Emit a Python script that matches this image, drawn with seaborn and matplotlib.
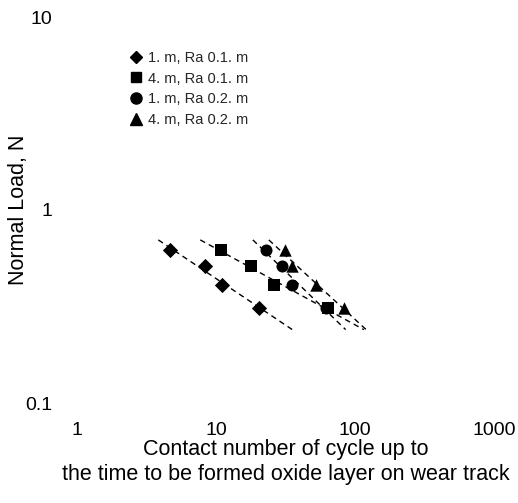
import numpy as np
import pandas as pd
import matplotlib
matplotlib.use("Agg")
import matplotlib.pyplot as plt
import seaborn as sns
from matplotlib.lines import Line2D

# ---- data ----
series_labels = ["1. m, Ra 0.1. m", "4. m, Ra 0.1. m", "1. m, Ra 0.2. m", "4. m, Ra 0.2. m"]
loads = [0.62, 0.51, 0.41, 0.31]
cycles_s1 = [4.7, 8.4, 11.0, 20.5]
cycles_s2 = [10.9, 17.9, 26.0, 64.0]
cycles_s3 = [23.0, 30.0, 35.0, 62.0]
cycles_s4 = [31.5, 35.5, 52.0, 84.0]
fit_load_range = [0.70, 0.24]
x_ticks = [1, 10, 100, 1000]
x_tick_labels = ["1", "10", "100", "1000"]
y_ticks = [0.1, 1, 10]
y_tick_labels = ["0.1", "1", "10"]

markers = ["D", "s", "o", "^"]
marker_sizes = [60, 75, 75, 80]

sns.set_theme(style="white")
plt.rcParams["font.family"] = ["Liberation Sans", "DejaVu Sans"]

rows = []
for lab, cyc in zip(series_labels, [cycles_s1, cycles_s2, cycles_s3, cycles_s4]):
    for c, l in zip(cyc, loads):
        rows.append({"series": lab, "cycles": c, "load": l})
df = pd.DataFrame(rows)

fig = plt.figure(figsize=(5.18, 5.03), dpi=100)
ax = fig.add_axes([77 / 518, 1 - 403 / 503, 417 / 518, 386 / 503])
ax.set_xscale("log")
ax.set_yscale("log")

# dashed fit lines (log-log regression)
line_rows = []
for lab in series_labels:
    sub = df[df.series == lab]
    b, a = np.polyfit(np.log10(sub.cycles), np.log10(sub.load), 1)
    for L in fit_load_range:
        line_rows.append({"series": lab, "cycles": 10 ** ((np.log10(L) - a) / b), "load": L})
ldf = pd.DataFrame(line_rows)
for lab in series_labels:
    sub = ldf[ldf.series == lab]
    sns.lineplot(data=sub, x="cycles", y="load", ax=ax, color="black", lw=1.0,
                 linestyle=(0, (4, 3)), sort=False, estimator=None, legend=False)

for lab, m, s in zip(series_labels, markers, marker_sizes):
    sub = df[df.series == lab]
    sns.scatterplot(data=sub, x="cycles", y="load", ax=ax, marker=m, s=s,
                    color="black", edgecolor="black", linewidth=0, legend=False, zorder=3)

ax.set_xlim(1, 1000)
ax.set_ylim(0.1, 10)
for sp in ax.spines.values():
    sp.set_visible(False)

ax.set_xticks(x_ticks)
ax.set_xticklabels(x_tick_labels)
ax.set_yticks(y_ticks)
ax.set_yticklabels(y_tick_labels)
ax.tick_params(axis="both", which="major", length=0, labelsize=14, colors="black")
ax.tick_params(axis="x", pad=14)
ax.tick_params(axis="y", pad=18)
ax.tick_params(which="minor", length=1.5, width=0.6, color="#d0d0d0", direction="in")

ax.set_xlabel("Contact number of cycle up to\nthe time to be formed oxide layer on wear track",
              fontsize=15.5, color="black", labelpad=0, linespacing=1.2)
ax.set_ylabel("Normal Load, N", fontsize=15.5, color="black")
ax.yaxis.set_label_coords(-0.115, 0.5)

handles = [Line2D([], [], marker=m, color="black", linestyle="none", markersize=ms)
           for m, ms in zip(markers, [6.5, 7.5, 8, 8])]
leg = ax.legend(handles, series_labels, loc="upper left", bbox_to_anchor=(0.125, 0.912),
                frameon=False, fontsize=10.5, handletextpad=0.3, labelspacing=0.45,
                handlelength=1.0, borderaxespad=0, borderpad=0)

fig.savefig("out.png", dpi=100, facecolor="white")
